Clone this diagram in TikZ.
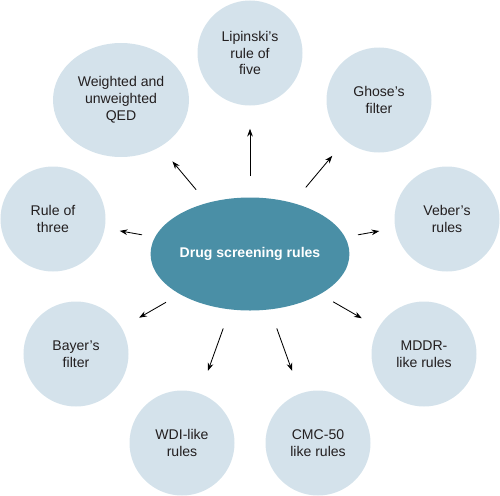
\documentclass[tikz,border=0pt]{standalone}
\usepackage{fontspec}
\setmainfont{Liberation Sans}
\usetikzlibrary{shapes.geometric, arrows.meta}
\definecolor{rulefill}{RGB}{212,226,235}
\definecolor{hubfill}{RGB}{74,143,166}
\definecolor{txt}{RGB}{35,31,32}

\begin{document}
\begin{tikzpicture}[x=0.25mm, y=-0.25mm,
  rule/.style={circle, fill=rulefill, minimum size=26.25mm, inner sep=0pt,
    align=center, text=txt, font=\fontsize{10}{12}\selectfont},
  hub/.style={ellipse, fill=hubfill, minimum width=44mm, minimum height=28.25mm,
    inner sep=0pt, text=white, font=\fontsize{10}{12}\selectfont\bfseries},
  arr/.style={-{Stealth[length=5.5pt, width=4pt]}, line width=0.6pt, black}]
\useasboundingbox (0,0) rectangle (500,495);
\node[hub] (hub) at (250,254) {Drug screening rules};
\node[rule] (lip) at (250,53) {Lipinski's\\rule of\\five};
\node[rule, ellipse, minimum width=34mm, minimum height=28.5mm] (qed) at (121,100)
  {Weighted and\\unweighted\\QED};
\node[rule] (gho) at (379,100) {Ghose's\\filter};
\node[rule] (veb) at (447,219) {Veber's\\rules};
\node[rule] (three) at (53,219) {Rule of\\three};
\node[rule] (bay) at (76,354) {Bayer's\\filter};
\node[rule] (mddr) at (424,354) {MDDR-\\like rules};
\node[rule] (wdi) at (182,443) {WDI-like\\rules};
\node[rule] (cmc) at (318,443) {CMC-50\\like rules};
% arrows, gaps in px
\foreach \n/\s/\e in {lip/21/23, qed/17/19, gho/20/20, veb/13/16, three/13/15,
  bay/16/20, mddr/15/19, wdi/20/24, cmc/20/24}{
	\draw[arr, shorten <={\s*0.25mm}, shorten >={\e*0.25mm}] (hub) -- (\n);
	}
\end{tikzpicture}
\end{document}
